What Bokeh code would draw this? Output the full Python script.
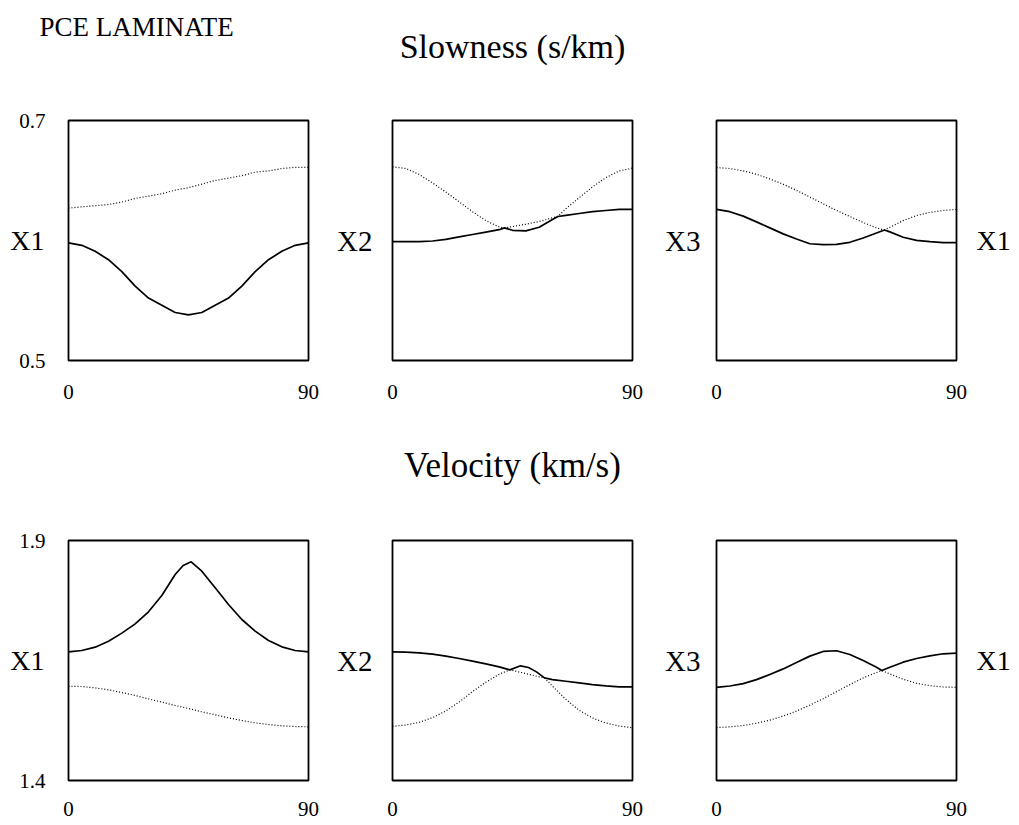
from bokeh.plotting import figure
from bokeh.layouts import row, column
from bokeh.models import FixedTicker, LinearAxis
from bokeh.embed import file_html
from bokeh.resources import INLINE

FONT = "Liberation Serif"

# ---------------- data ----------------
ANG = [0, 5, 10, 15, 20, 25, 30, 35, 40, 45, 50, 55, 60, 65, 70, 75, 80, 85, 90]

# Slowness (s/km), plane X1-X2
slow12_solid_ang = ANG
slow12_solid = [0.598, 0.596, 0.591, 0.584, 0.574, 0.562, 0.552, 0.546, 0.540, 0.538,
                0.540, 0.546, 0.552, 0.562, 0.574, 0.584, 0.591, 0.596, 0.598]
slow12_dot_ang = ANG
slow12_dot = [0.627, 0.628, 0.629, 0.630, 0.632, 0.635, 0.637, 0.639, 0.642, 0.644,
              0.647, 0.650, 0.652, 0.654, 0.657, 0.658, 0.660, 0.661, 0.661]

# Slowness, plane X2-X3
slow23_ang = [0, 5, 10, 15, 20, 25, 30, 35, 40, 42, 45, 50, 55, 60, 62, 65, 70, 75, 80, 85, 90]
slow23_solid = [0.599, 0.599, 0.599, 0.5996, 0.601, 0.603, 0.605, 0.607, 0.609, 0.6105, 0.6085,
                0.608, 0.611, 0.6175, 0.620, 0.621, 0.6225, 0.624, 0.625, 0.626, 0.626]
slow23_dot = [0.6614, 0.660, 0.655, 0.648, 0.6404, 0.6323, 0.624, 0.6166, 0.6113, 0.6105, 0.6116,
              0.6136, 0.6158, 0.619, 0.620, 0.6264, 0.6357, 0.6446, 0.6524, 0.658, 0.6603]

# Slowness, plane X3-X1
slow31_ang = [0, 5, 10, 15, 20, 25, 30, 35, 40, 45, 50, 55, 60, 63, 65, 70, 75, 80, 85, 90]
slow31_solid = [0.6259, 0.624, 0.6203, 0.6155, 0.6105, 0.6055, 0.6013, 0.5973, 0.5965, 0.5968,
                0.5985, 0.6021, 0.6063, 0.6088, 0.6072, 0.6027, 0.6001, 0.599, 0.5982, 0.5982]
slow31_dot = [0.6608, 0.660, 0.658, 0.6552, 0.6513, 0.6469, 0.6418, 0.6362, 0.6306, 0.625,
              0.620, 0.615, 0.6105, 0.6088, 0.611, 0.6166, 0.6208, 0.6234, 0.625, 0.6259]

# Velocity (km/s), plane X1-X2
vel12_solid_ang = [0, 5, 10, 15, 20, 25, 30, 35, 40, 43, 46, 50, 55, 60, 65, 70, 75, 80, 85, 90]
vel12_solid = [1.668, 1.6708, 1.6778, 1.6903, 1.707, 1.7264, 1.7514, 1.7854, 1.8292, 1.848, 1.8556,
               1.8361, 1.8014, 1.7667, 1.7354, 1.7111, 1.6917, 1.6785, 1.6708, 1.668]
vel12_dot_ang = ANG
vel12_dot = [1.5965, 1.5958, 1.593, 1.5889, 1.5833, 1.5771, 1.5701, 1.5632, 1.5563, 1.55,
             1.5431, 1.5368, 1.5306, 1.525, 1.5201, 1.5167, 1.5139, 1.5125, 1.5118]

# Velocity, plane X2-X3
vel23_solid_ang = [0, 5, 10, 15, 20, 25, 30, 35, 40, 44, 48, 51, 54, 57, 60, 65, 70, 75, 80, 85, 90]
vel23_solid = [1.6681, 1.6674, 1.666, 1.6632, 1.659, 1.6542, 1.6486, 1.643, 1.6368, 1.6305, 1.6389,
               1.6354, 1.6263, 1.6138, 1.6103, 1.6068, 1.6033, 1.5999, 1.5971, 1.595, 1.595]
vel23_dot_ang = [0, 5, 10, 15, 20, 25, 30, 35, 40, 44, 50, 55, 57, 60, 65, 70, 75, 80, 85, 90]
vel23_dot = [1.5128, 1.5156, 1.5212, 1.5309, 1.5448, 1.5636, 1.5852, 1.6047, 1.6214, 1.6305,
             1.6228, 1.6159, 1.6138, 1.5964, 1.5692, 1.5462, 1.5302, 1.5198, 1.5135, 1.51]

# Velocity, plane X3-X1
vel31_ang = [0, 5, 10, 15, 20, 25, 30, 35, 40, 45, 50, 55, 60, 62, 65, 70, 75, 80, 85, 90]
vel31_solid = [1.5941, 1.5969, 1.6018, 1.6102, 1.6207, 1.6325, 1.6458, 1.6591, 1.6689, 1.6703,
               1.6626, 1.65, 1.636, 1.629, 1.636, 1.6465, 1.6542, 1.6598, 1.664, 1.6654]
vel31_dot = [1.5103, 1.5117, 1.5145, 1.5194, 1.5257, 1.5341, 1.5446, 1.5571, 1.5704, 1.5851,
             1.5997, 1.6137, 1.6249, 1.629, 1.622, 1.6109, 1.6025, 1.5976, 1.5948, 1.5941]

SLOW_RANGE = (0.5, 0.7)
VEL_RANGE = (1.4, 1.9)
X_TICKS = [0, 90]
AXIS_LABELS = ["X1", "X2", "X3", "X1"]
TITLE = "PCE LAMINATE"
SLOW_TITLE = "Slowness (s/km)"
VEL_TITLE = "Velocity (km/s)"


def style_axis(ax, size, standoff):
    ax.axis_line_color = None
    ax.major_tick_line_color = None
    ax.minor_tick_line_color = None
    ax.major_tick_out = 0
    ax.major_tick_in = 0
    ax.minor_tick_out = 0
    ax.minor_tick_in = 0
    ax.major_label_standoff = standoff
    ax.major_label_text_font = FONT
    ax.major_label_text_font_size = size
    ax.major_label_text_color = "black"


def heading(p, text, at, size, standoff):
    ax = LinearAxis(ticker=FixedTicker(ticks=[at]), major_label_overrides={at: text})
    style_axis(ax, size, standoff)
    p.add_layout(ax, "above")


def panel(solid_x, solid_y, dot_x, dot_y, yr, idx, top):
    last = idx == 2
    p = figure(frame_width=240, frame_height=240, x_range=(0, 90), y_range=yr,
               output_backend="svg", toolbar_location=None,
               min_border_left=68, min_border_right=63 if last else 16,
               min_border_top=120, min_border_bottom=60 if top else 40)
    p.background_fill_color = "white"
    p.border_fill_color = "white"
    p.outline_line_color = "black"
    p.outline_line_width = 1.8
    p.grid.visible = False

    p.line(solid_x, solid_y, line_color="black", line_width=1.7)
    p.line(dot_x, dot_y, line_color="black", line_width=1.2, line_dash="1 2")

    xa = p.xaxis[0]
    xa.ticker = FixedTicker(ticks=X_TICKS)
    style_axis(xa, "21px", 24 if top else 21)

    ymid = round((yr[0] + yr[1]) / 2, 6)
    ya = p.yaxis[0]
    if idx == 0:
        ya.ticker = FixedTicker(ticks=[yr[0], yr[1]])
        style_axis(ya, "21px", 23)
        lab = LinearAxis(ticker=FixedTicker(ticks=[ymid]),
                         major_label_overrides={ymid: AXIS_LABELS[0]})
        style_axis(lab, "28px", -28)
        p.add_layout(lab, "left")
    else:
        ya.ticker = FixedTicker(ticks=[ymid])
        ya.major_label_overrides = {ymid: AXIS_LABELS[idx]}
        style_axis(ya, "29px", 20 if idx == 1 else 16)
    if last:
        ra = LinearAxis(ticker=FixedTicker(ticks=[ymid]),
                        major_label_overrides={ymid: AXIS_LABELS[3]})
        style_axis(ra, "28px", 20)
        p.add_layout(ra, "right")
    return p


t1 = panel(slow12_solid_ang, slow12_solid, slow12_dot_ang, slow12_dot, SLOW_RANGE, 0, True)
t2 = panel(slow23_ang, slow23_solid, slow23_ang, slow23_dot, SLOW_RANGE, 1, True)
t3 = panel(slow31_ang, slow31_solid, slow31_ang, slow31_dot, SLOW_RANGE, 2, True)
b1 = panel(vel12_solid_ang, vel12_solid, vel12_dot_ang, vel12_dot, VEL_RANGE, 0, False)
b2 = panel(vel23_solid_ang, vel23_solid, vel23_dot_ang, vel23_dot, VEL_RANGE, 1, False)
b3 = panel(vel31_ang, vel31_solid, vel31_ang, vel31_dot, VEL_RANGE, 2, False)

heading(t1, TITLE, 25.5, "27px", 79)
heading(t2, SLOW_TITLE, 45, "34px", 56)
heading(b2, VEL_TITLE, 45, "35px", 56)

layout = column(row(t1, t2, t3), row(b1, b2, b3))

open("out.html", "w").write(file_html(layout, INLINE))
